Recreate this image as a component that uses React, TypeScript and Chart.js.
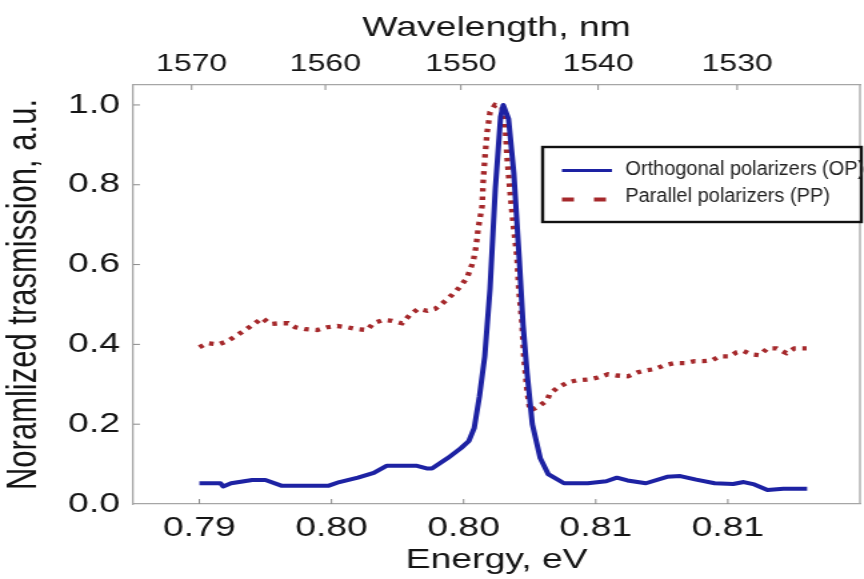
import React, { useEffect, useRef } from 'react';
import { Chart, registerables } from 'chart.js';

Chart.register(...registerables);

// ---------- data ----------
const opEnergy = [0.79, 0.7908, 0.7909, 0.7912, 0.792, 0.7925, 0.7931, 0.7949, 0.7953, 0.796, 0.7966, 0.7971, 0.7982, 0.7986, 0.7988, 0.7994, 0.7999, 0.8002, 0.8004, 0.8006, 0.8008, 0.801, 0.8012, 0.8014, 0.8015, 0.8017, 0.8019, 0.8021, 0.80225, 0.8024, 0.8026, 0.8029, 0.8032, 0.8038, 0.8047, 0.8054, 0.8058, 0.8062, 0.8069, 0.8077, 0.8082, 0.8088, 0.8095, 0.8102, 0.8106, 0.811, 0.8115, 0.8121, 0.813];
const opValue = [0.052, 0.052, 0.044, 0.052, 0.06, 0.06, 0.046, 0.046, 0.055, 0.066, 0.078, 0.096, 0.096, 0.089, 0.089, 0.115, 0.14, 0.158, 0.19, 0.27, 0.37, 0.54, 0.79, 0.97, 1.0, 0.965, 0.83, 0.62, 0.45, 0.33, 0.2, 0.115, 0.075, 0.052, 0.052, 0.057, 0.066, 0.059, 0.052, 0.068, 0.07, 0.061, 0.052, 0.05, 0.055, 0.049, 0.035, 0.038, 0.038];

const ppEnergy = [0.79, 0.7903, 0.79072, 0.79106, 0.79136, 0.79166, 0.792, 0.79238, 0.79268, 0.79306, 0.79336, 0.79363, 0.79401, 0.79446, 0.79484, 0.79522, 0.79559, 0.79601, 0.79635, 0.79658, 0.79695, 0.79729, 0.79767, 0.79797, 0.79828, 0.79862, 0.79892, 0.79922, 0.79956, 0.79986, 0.80013, 0.80036, 0.80047, 0.80055, 0.8007, 0.80074, 0.80081, 0.80089, 0.801, 0.80119, 0.80145, 0.80157, 0.80164, 0.80175, 0.80187, 0.80202, 0.80209, 0.80221, 0.80228, 0.8024, 0.80251, 0.80277, 0.80315, 0.80327, 0.80357, 0.80395, 0.80429, 0.8047, 0.80508, 0.80546, 0.8058, 0.80621, 0.80659, 0.80693, 0.80723, 0.80761, 0.80799, 0.80837, 0.80875, 0.80905, 0.80939, 0.80969, 0.81007, 0.81033, 0.8106, 0.8109, 0.8112, 0.8115, 0.81184, 0.81222, 0.81252, 0.81298];
const ppValue = [0.393, 0.403, 0.4, 0.408, 0.42, 0.433, 0.448, 0.466, 0.451, 0.453, 0.453, 0.443, 0.438, 0.436, 0.443, 0.446, 0.443, 0.438, 0.436, 0.453, 0.461, 0.459, 0.453, 0.474, 0.489, 0.484, 0.489, 0.504, 0.524, 0.544, 0.567, 0.607, 0.645, 0.69, 0.746, 0.806, 0.872, 0.932, 0.982, 1.0, 0.995, 0.957, 0.872, 0.788, 0.705, 0.62, 0.537, 0.453, 0.368, 0.285, 0.234, 0.242, 0.259, 0.277, 0.292, 0.305, 0.31, 0.312, 0.317, 0.325, 0.322, 0.32, 0.33, 0.335, 0.338, 0.348, 0.353, 0.353, 0.358, 0.358, 0.36, 0.37, 0.37, 0.38, 0.383, 0.375, 0.373, 0.39, 0.39, 0.378, 0.39, 0.39];

const energyTicks = [0.79, 0.795, 0.8, 0.805, 0.81];
const energyTickLabels = ['0.79', '0.80', '0.80', '0.81', '0.81'];
const wavelengthTicks = [1570, 1560, 1550, 1540, 1530];
const yTicks = [0, 0.2, 0.4, 0.6, 0.8, 1.0];
const seriesLabels = ['Orthogonal polarizers (OP)', 'Parallel polarizers (PP)'];

const HC = 1239.84; // eV*nm

// ---------- style ----------
const BLUE = '#1d22a3';
const RED = '#a5282b';
const FRAME = '#a6a6a6';
const TXT = '#151515';
const FONT = '"Liberation Sans", Arial, Helvetica, sans-serif';
const CANVAS_W = 648; // drawn then stretched horizontally to 864
const CANVAS_H = 579;

const frameTicksPlugin = {
  id: 'frameTicks',
  afterDatasetsDraw(chart: any) {
    const { ctx, chartArea: a, scales } = chart;
    ctx.save();
    ctx.strokeStyle = FRAME;
    ctx.lineWidth = 1.3;
    ctx.beginPath();
    ctx.moveTo(a.right, a.top);
    ctx.lineTo(a.right, a.bottom);
    ctx.stroke();
    ctx.strokeStyle = '#8a8a8a';
    ctx.lineWidth = 1;
    const L = 5;
    ctx.beginPath();
    scales.x.ticks.forEach((t: any) => {
      const p = scales.x.getPixelForValue(t.value);
      ctx.moveTo(p, a.bottom);
      ctx.lineTo(p, a.bottom - L);
    });
    scales.x2.ticks.forEach((t: any) => {
      const p = scales.x2.getPixelForValue(t.value);
      ctx.moveTo(p, a.top);
      ctx.lineTo(p, a.top + L);
    });
    scales.y.ticks.forEach((t: any) => {
      if (t.value === 0) return;
      const p = scales.y.getPixelForValue(t.value);
      ctx.moveTo(a.left, p);
      ctx.lineTo(a.left + L, p);
    });
    ctx.stroke();
    ctx.restore();
  },
};

const boxLegendPlugin = {
  id: 'boxLegend',
  afterDraw(chart: any) {
    const { ctx } = chart;
    const x0 = 407;
    const y0 = 147;
    const x1 = chart.width - 2;
    const y1 = 222;
    ctx.save();
    ctx.fillStyle = '#ffffff';
    ctx.fillRect(x0, y0, x1 - x0, y1 - y0);
    ctx.strokeStyle = '#111111';
    ctx.lineWidth = 2.4;
    ctx.strokeRect(x0, y0, x1 - x0, y1 - y0);
    chart.data.datasets.forEach((ds: any, i: number) => {
      const y = i === 0 ? 170.5 : 199.5;
      ctx.strokeStyle = ds.borderColor;
      ctx.lineWidth = i === 0 ? 3 : 4;
      ctx.setLineDash(i === 0 ? [] : [9, 15]);
      ctx.beginPath();
      ctx.moveTo(421.5, y);
      ctx.lineTo(459, y);
      ctx.stroke();
      ctx.setLineDash([]);
      ctx.save();
      ctx.translate(469, i === 0 ? 169.5 : 196.5);
      ctx.scale(0.75, 1);
      ctx.font = `20px ${FONT}`;
      ctx.textBaseline = 'middle';
      ctx.fillStyle = '#222222';
      ctx.fillText(ds.label, 0, 0);
      ctx.restore();
    });
    ctx.restore();
  },
};

export default function App() {
  const ref = useRef<HTMLCanvasElement>(null);

  useEffect(() => {
    if (!ref.current) return;
    Chart.defaults.font.family = FONT;
    const chart = new Chart(ref.current, {
      type: 'line',
      data: {
        datasets: [
          {
            label: seriesLabels[0],
            data: opEnergy.map((e, i) => ({ x: e, y: opValue[i] })),
            borderColor: BLUE,
            backgroundColor: BLUE,
            borderWidth: 4,
            pointRadius: 0,
            tension: 0,
            fill: false,
            borderJoinStyle: 'round',
          },
          {
            label: seriesLabels[1],
            data: ppEnergy.map((e, i) => ({ x: e, y: ppValue[i] })),
            borderColor: RED,
            backgroundColor: RED,
            borderWidth: 4.3,
            borderDash: [3.5, 5],
            pointRadius: 0,
            tension: 0,
            fill: false,
          },
        ],
      },
      options: {
        responsive: false,
        animation: false,
        devicePixelRatio: 1,
        layout: { padding: { left: 0, right: 3, top: 0, bottom: 0 } },
        plugins: {
          legend: { display: false },
          tooltip: { enabled: false },
        },
        scales: {
          x: {
            type: 'linear',
            position: 'bottom',
            min: 0.7875,
            max: 0.815,
            grid: { display: false, drawTicks: false },
            border: { display: true, color: FRAME, width: 1.3 },
            afterBuildTicks: (s: any) => {
              s.ticks = energyTicks.map((v) => ({ value: v }));
            },
            afterFit: (s: any) => {
              s.height = 75;
            },
            ticks: {
              autoSkip: false,
              maxRotation: 0,
              padding: 7.5,
              color: TXT,
              font: { size: 28 },
              callback: (_v: any, i: number) => energyTickLabels[i],
            },
            title: {
              display: true,
              text: 'Energy, eV',
              color: TXT,
              font: { size: 28 },
              padding: { top: 0, bottom: 2 },
            },
          },
          x2: {
            type: 'linear',
            position: 'top',
            min: 0.7875,
            max: 0.815,
            grid: { display: false, drawTicks: false },
            border: { display: true, color: FRAME, width: 1.3 },
            afterBuildTicks: (s: any) => {
              s.ticks = wavelengthTicks.map((w) => ({ value: HC / w }));
            },
            afterFit: (s: any) => {
              s.height = 85;
            },
            ticks: {
              autoSkip: false,
              maxRotation: 0,
              padding: 6,
              color: TXT,
              font: { size: 24 },
              callback: (_v: any, i: number) => String(wavelengthTicks[i]),
            },
            title: {
              display: true,
              text: 'Wavelength, nm',
              color: TXT,
              font: { size: 28 },
              padding: { top: 11.5, bottom: 0 },
            },
          },
          y: {
            type: 'linear',
            min: 0,
            max: 1.05,
            grid: { display: false, drawTicks: false },
            border: { display: true, color: FRAME, width: 1.3 },
            afterBuildTicks: (s: any) => {
              s.ticks = yTicks.map((v) => ({ value: v }));
            },
            afterFit: (s: any) => {
              s.width = 100;
            },
            ticks: {
              padding: 10,
              color: TXT,
              font: { size: 28 },
              callback: (v: any) => Number(v).toFixed(1),
            },
            title: {
              display: true,
              text: 'Noramlized trasmission, a.u.',
              color: TXT,
              font: { size: 31 },
              padding: { top: 0, bottom: 0 },
            },
          },
        },
      },
      plugins: [frameTicksPlugin, boxLegendPlugin],
    } as any);
    return () => chart.destroy();
  }, []);

  return (
    <div
      style={{
        position: 'fixed',
        left: 0,
        top: 0,
        width: 864,
        height: 579,
        background: '#ffffff',
        overflow: 'hidden',
      }}
    >
      <canvas
        ref={ref}
        width={CANVAS_W}
        height={CANVAS_H}
        style={{ width: '864px', height: '579px', display: 'block' }}
      />
    </div>
  );
}
